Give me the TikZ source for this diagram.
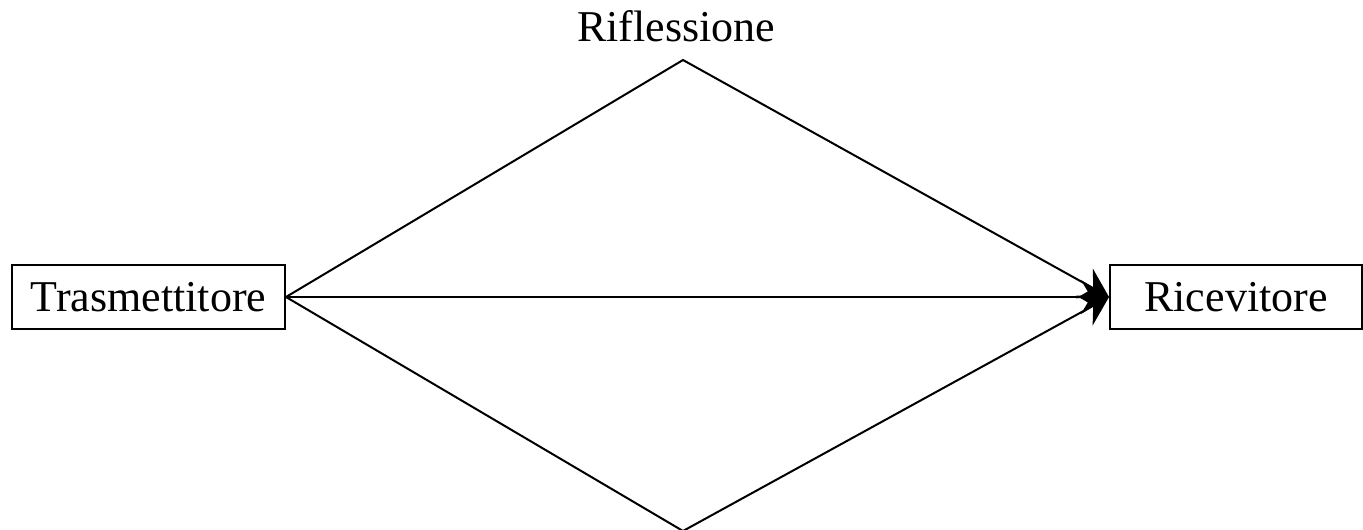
\documentclass[tikz,border=0pt]{standalone}
\usepackage{fontspec}
\setmainfont{Liberation Serif}
\usetikzlibrary{arrows.meta}
\begin{document}
\begin{tikzpicture}[x=1pt,y=-1pt,
  box/.style={draw,line width=2pt,inner sep=0pt,font=\fontsize{44}{50}\selectfont},
  lbl/.style={inner sep=0pt,font=\fontsize{44}{50}\selectfont},
  conn/.style={line width=2pt,-{Stealth[length=28pt,width=34pt,inset=10pt]}}]
\useasboundingbox (0,0) rectangle (1363,530);
\node[box,minimum width=273pt,minimum height=64pt] (tx) at (148.5,297) {Trasmettitore};
\node[box,minimum width=252pt,minimum height=64pt] (rx) at (1236,297) {Ricevitore};
\node[lbl,anchor=base] (rl) at (676,41) {Riflessione};
\coordinate (top) at (683,60);
\coordinate (bot) at (683,531);
\draw[conn] (tx.east) -- (rx.west);
\draw[conn] (tx.east) -- (top) -- (rx.west);
\draw[conn] (tx.east) -- (bot) -- (rx.west);
\end{tikzpicture}
\end{document}
